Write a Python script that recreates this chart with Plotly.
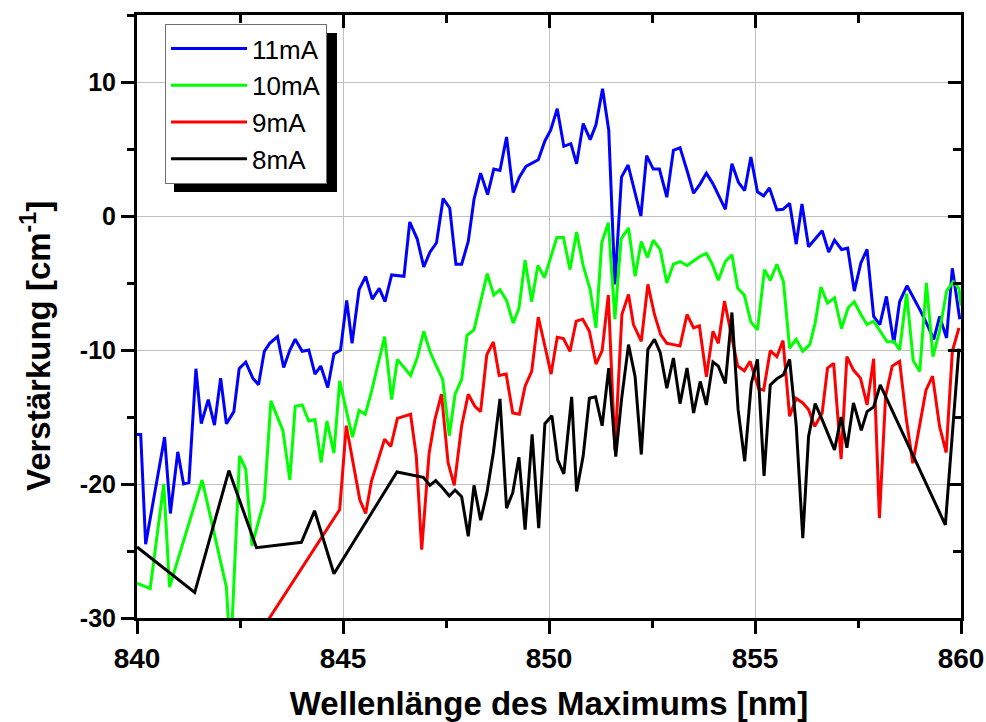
import plotly.graph_objects as go

# Gain spectra vs. wavelength of the maximum, for four pump currents
wl_11mA = [840.00, 840.09, 840.21, 840.67, 840.81, 840.99, 841.13, 841.26, 841.43, 841.56,
           841.73, 841.88, 842.03, 842.17, 842.35, 842.48, 842.64, 842.81, 842.95, 843.09,
           843.22, 843.41, 843.56, 843.71, 843.84, 844.01, 844.17, 844.32, 844.46, 844.63,
           844.78, 844.94, 845.09, 845.22, 845.39, 845.55, 845.71, 845.88, 846.02, 846.18,
           846.48, 846.62, 846.80, 846.96, 847.11, 847.27, 847.43, 847.59, 847.74, 847.88,
           848.04, 848.18, 848.34, 848.51, 848.66, 848.81, 848.97, 849.13, 849.28, 849.44,
           849.74, 849.90, 850.04, 850.20, 850.36, 850.53, 850.67, 850.83, 851.00, 851.14,
           851.30, 851.45, 851.60, 851.76, 851.92, 852.07, 852.23, 852.37, 852.53, 852.68,
           852.86, 853.02, 853.18, 853.35, 853.51, 853.67, 853.82, 853.98, 854.11, 854.28,
           854.44, 854.60, 854.75, 854.90, 855.06, 855.21, 855.35, 855.53, 855.68, 855.84,
           856.00, 856.14, 856.30, 856.46, 856.63, 856.79, 856.93, 857.10, 857.25, 857.41,
           857.57, 857.72, 857.88, 858.03, 858.19, 858.37, 858.51, 858.69, 858.85, 859.02,
           859.18, 859.34, 859.48, 859.65, 859.79, 859.97]
g_11mA = [-16.3, -16.3, -24.5, -16.5, -22.2, -17.6, -20.0, -19.9, -11.4, -15.5,
          -13.7, -15.6, -12.1, -15.5, -14.6, -11.4, -10.9, -12.1, -12.6, -10.1,
          -9.5, -9.0, -11.3, -10.0, -9.2, -10.1, -10.0, -11.8, -11.2, -12.8,
          -10.3, -10.0, -6.3, -9.5, -5.5, -4.5, -6.2, -5.4, -6.4, -4.4,
          -4.5, -0.45, -1.7, -3.8, -2.7, -2.0, 1.3, 0.6, -3.6, -3.6,
          -1.9, 1.25, 3.2, 1.6, 3.5, 3.4, 5.9, 1.75, 2.9, 3.7,
          4.2, 5.6, 6.4, 8.0, 5.2, 5.4, 3.9, 6.9, 5.7, 6.8,
          9.5, 6.4, -5.1, 2.9, 3.8, 2.0, 0.0, 4.5, 3.5, 3.5,
          1.4, 4.9, 5.1, 3.4, 1.7, 2.4, 3.2, 2.4, 1.6, 0.5,
          3.9, 2.5, 1.9, 4.4, 1.8, 1.5, 2.1, 0.45, 0.5, 0.95,
          -2.1, 0.9, -2.3, -1.7, -1.1, -2.7, -1.8, -2.5, -2.4, -5.6,
          -3.5, -2.5, -7.5, -8.1, -6.0, -9.5, -6.4, -5.2, -6.1, -7.1,
          -8.1, -9.2, -7.5, -9.1, -3.9, -7.7]

wl_10mA = [840.00, 840.32, 840.65, 840.79, 841.58, 842.17, 842.27, 842.49, 842.64, 842.79,
           843.09, 843.25, 843.54, 843.71, 843.84, 844.01, 844.17, 844.32, 844.47, 844.61,
           844.78, 844.92, 845.08, 845.23, 845.39, 845.54, 845.70, 846.01, 846.18, 846.32,
           846.64, 846.80, 846.96, 847.11, 847.25, 847.42, 847.58, 847.72, 847.88, 848.01,
           848.18, 848.50, 848.66, 848.81, 848.97, 849.13, 849.27, 849.42, 849.58, 849.73,
           849.89, 850.19, 850.35, 850.51, 850.67, 850.83, 851.00, 851.14, 851.28, 851.44,
           851.60, 851.75, 851.93, 852.09, 852.24, 852.39, 852.53, 852.70, 852.86, 853.02,
           853.18, 853.35, 853.49, 853.67, 853.82, 853.95, 854.11, 854.28, 854.44, 854.58,
           854.74, 854.90, 855.06, 855.23, 855.37, 855.53, 855.69, 855.84, 856.00, 856.16,
           856.33, 856.46, 856.60, 856.76, 856.93, 857.10, 857.26, 857.41, 857.57, 857.72,
           857.88, 858.04, 858.21, 858.37, 858.51, 858.68, 858.84, 859.00, 859.16, 859.32,
           859.48, 859.65, 859.81, 859.95, 860.00]
g_10mA = [-27.4, -27.8, -20.0, -27.7, -19.7, -27.7, -33.0, -17.9, -18.9, -24.6,
          -21.2, -13.8, -16.0, -19.7, -14.2, -14.1, -15.3, -15.2, -18.4, -15.3,
          -17.7, -12.3, -14.5, -16.5, -14.5, -14.8, -13.0, -9.0, -13.7, -10.7,
          -11.9, -10.6, -8.6, -10.1, -11.1, -12.2, -16.4, -13.3, -12.2, -8.9,
          -8.5, -4.3, -5.9, -5.5, -6.3, -8.0, -6.9, -3.3, -6.4, -3.7,
          -4.6, -1.6, -1.6, -4.0, -1.2, -3.7, -5.5, -8.35, -2.0, -0.5,
          -7.7, -1.7, -0.9, -4.5, -1.9, -3.1, -1.8, -2.5, -5.0, -3.6,
          -3.4, -3.7, -3.4, -3.0, -2.8, -3.5, -4.8, -3.4, -2.9, -5.4,
          -5.9, -7.9, -8.5, -4.0, -4.8, -3.6, -4.9, -9.85, -9.2, -10.1,
          -9.6, -8.0, -5.3, -6.5, -6.1, -8.4, -6.85, -6.4, -7.35, -8.1,
          -7.85, -8.6, -9.4, -9.35, -10.0, -5.8, -10.8, -11.6, -5.0, -10.5,
          -8.6, -5.6, -4.9, -5.4, -6.7]

wl_9mA = [842.90, 844.92, 845.08, 845.41, 845.55, 845.69, 846.01, 846.16, 846.32, 846.64,
          846.78, 846.91, 847.09, 847.23, 847.39, 847.55, 847.70, 847.88, 848.04, 848.20,
          848.34, 848.49, 848.65, 848.79, 848.96, 849.12, 849.28, 849.42, 849.58, 849.74,
          849.90, 850.05, 850.20, 850.35, 850.51, 850.66, 850.82, 850.98, 851.14, 851.29,
          851.44, 851.60, 851.77, 851.93, 852.05, 852.24, 852.40, 852.56, 852.71, 852.86,
          853.02, 853.18, 853.35, 853.51, 853.65, 853.82, 853.98, 854.11, 854.26, 854.42,
          854.58, 854.74, 854.88, 855.09, 855.21, 855.37, 855.53, 855.68, 855.84, 856.00,
          856.16, 856.30, 856.45, 856.63, 856.76, 856.91, 857.09, 857.23, 857.39, 857.56,
          857.72, 857.88, 858.02, 858.17, 858.33, 858.51, 858.67, 858.83, 858.99, 859.15,
          859.31, 859.48, 859.64, 859.79, 859.95]
g_9mA = [-31.5, -21.9, -15.65, -21.2, -22.2, -19.8, -16.65, -17.2, -15.1, -14.8,
         -17.95, -24.9, -17.7, -15.2, -13.3, -18.4, -20.1, -15.65, -13.3, -14.2,
         -14.6, -10.35, -9.4, -11.9, -11.8, -14.7, -14.8, -12.7, -11.6, -7.55,
         -9.7, -11.8, -9.05, -9.15, -10.1, -7.85, -7.7, -8.6, -11.05, -10.05,
         -5.9, -17.45, -7.35, -5.85, -8.1, -9.35, -5.1, -7.35, -8.85, -9.5,
         -9.6, -9.7, -7.35, -8.35, -8.2, -12.0, -8.6, -9.5, -6.35, -8.9,
         -11.2, -11.55, -10.85, -12.9, -13.0, -10.05, -10.5, -9.3, -14.95, -13.6,
         -13.95, -14.45, -15.7, -14.7, -11.35, -11.0, -18.15, -10.5, -11.5, -12.1,
         -14.1, -10.65, -22.55, -13.45, -11.2, -10.85, -15.1, -18.45, -15.6, -13.0,
         -11.95, -15.7, -17.65, -10.1, -8.35]

wl_8mA = [840.00, 841.40, 842.23, 842.90, 843.99, 844.31, 844.78, 846.31, 846.95, 847.11,
          847.25, 847.42, 847.58, 847.72, 847.88, 848.04, 848.18, 848.34, 848.49, 848.65,
          848.81, 848.97, 849.12, 849.27, 849.42, 849.59, 849.75, 849.90, 850.07, 850.21,
          850.36, 850.55, 850.67, 850.83, 850.98, 851.13, 851.29, 851.45, 851.62, 851.76,
          851.93, 852.09, 852.24, 852.40, 852.56, 852.70, 852.86, 853.02, 853.18, 853.35,
          853.51, 853.67, 853.82, 853.98, 854.11, 854.28, 854.44, 854.59, 854.75, 854.91,
          855.06, 855.22, 855.37, 855.53, 855.69, 855.84, 856.00, 856.16, 856.30, 856.46,
          856.63, 856.79, 856.93, 857.09, 857.23, 857.39, 857.58, 857.72, 857.88, 858.04,
          859.62, 859.95]
g_8mA = [-24.7, -28.1, -19.0, -24.75, -24.35, -22.0, -26.7, -19.1, -19.5, -20.1,
         -19.75, -20.3, -20.9, -20.45, -20.95, -23.9, -20.1, -22.7, -20.7, -17.65,
         -13.65, -21.8, -20.65, -18.0, -23.4, -16.3, -23.3, -15.5, -14.9, -18.2,
         -19.25, -13.5, -20.55, -17.9, -13.6, -13.5, -15.65, -11.35, -17.95, -13.7,
         -9.6, -12.0, -17.8, -9.95, -9.2, -10.2, -12.85, -10.6, -14.0, -11.35,
         -14.7, -12.35, -14.1, -10.9, -11.2, -12.5, -7.2, -14.45, -18.3, -12.5,
         -10.7, -19.4, -12.6, -12.15, -11.85, -10.7, -15.6, -24.05, -16.45, -14.0,
         -15.2, -16.45, -17.45, -15.0, -17.3, -13.95, -16.0, -14.6, -14.25, -12.6,
         -23.05, -9.9]

# axis ticks and their labels
x_ticks = [840, 845, 850, 855, 860]
x_ticklabels = ["840", "845", "850", "855", "860"]
y_ticks = [-30, -20, -10, 0, 10]
y_ticklabels = ["-30", "-20", "-10", "0", "10"]

series = [
    ("11mA", wl_11mA, g_11mA, "#0000ff"),
    ("10mA", wl_10mA, g_10mA, "#00ff00"),
    ("9mA", wl_9mA, g_9mA, "#ff0000"),
    ("8mA", wl_8mA, g_8mA, "#000000"),
]

x_range = [840, 860]
y_range = [-30, 15]

FONT = "Liberation Sans, Arial, sans-serif"

fig = go.Figure()
for i, (name, x, y, color) in enumerate(series):
    # last curve goes on the top/right axis pair so that frame is drawn too
    on_secondary = i == len(series) - 1
    fig.add_trace(go.Scatter(x=x, y=y, mode="lines", name=name,
                             line=dict(color=color, width=3),
                             xaxis="x2" if on_secondary else "x",
                             yaxis="y2" if on_secondary else "y"))

axis_common = dict(showline=True, linecolor="black", linewidth=3,
                   tickcolor="black", tickwidth=3, zeroline=False,
                   automargin=False)

fig.update_layout(
    width=986, height=722,
    margin=dict(l=137, r=25, t=15, b=104),
    paper_bgcolor="white", plot_bgcolor="white",
    font=dict(family=FONT, color="black"),
    showlegend=True,
    legend=dict(x=0.034, y=0.985, xanchor="left", yanchor="top",
                bgcolor="white", bordercolor="#707070", borderwidth=1,
                font=dict(family=FONT, size=26, color="black"),
                itemwidth=76, tracegroupgap=0),
    xaxis=dict(range=x_range, tickvals=x_ticks, ticktext=x_ticklabels,
               ticks="outside", ticklen=13,
               showgrid=True, gridcolor="#c0c0c0", gridwidth=1,
               minor=dict(dtick=2.5, tick0=840, ticks="outside", ticklen=7,
                          tickwidth=3, tickcolor="black", showgrid=False),
               tickfont=dict(family=FONT, size=28, weight="bold"),
               ticklabelstandoff=0,
               title=dict(text="Wellenlänge des Maximums [nm]", standoff=20,
                          font=dict(family=FONT, size=33, weight="bold")),
               **axis_common),
    yaxis=dict(range=y_range, tickvals=y_ticks, ticktext=y_ticklabels,
               ticks="outside", ticklen=13,
               showgrid=True, gridcolor="#c0c0c0", gridwidth=1,
               minor=dict(dtick=5, tick0=0, ticks="outside", ticklen=7,
                          tickwidth=3, tickcolor="black", showgrid=False),
               tickfont=dict(family=FONT, size=25, weight="bold"),
               ticklabelstandoff=0,
               **axis_common),
    xaxis2=dict(range=x_range, overlaying="x", side="top", anchor="y2",
                tickvals=x_ticks, ticks="inside", ticklen=13,
                showticklabels=False, showgrid=False,
                minor=dict(dtick=2.5, tick0=840, ticks="inside", ticklen=8,
                           tickwidth=3, tickcolor="black", showgrid=False),
                **axis_common),
    yaxis2=dict(range=y_range, overlaying="y", side="right", anchor="x2",
                tickvals=y_ticks, ticks="inside", ticklen=13,
                showticklabels=False, showgrid=False,
                minor=dict(dtick=5, tick0=0, ticks="inside", ticklen=8,
                           tickwidth=3, tickcolor="black", showgrid=False),
                **axis_common),
)

# y-axis title, set a little below the middle of the axis
fig.add_annotation(text="Verstärkung [cm<sup>-1</sup>]", textangle=-90,
                   xref="paper", yref="paper", x=-0.1226, y=0.451,
                   xanchor="center", yanchor="middle", showarrow=False,
                   font=dict(family=FONT, size=33, weight="bold", color="black"))

# drop shadow behind the legend box
fig.add_shape(type="rect", xref="paper", yref="paper",
              x0=0.0449, x1=0.2427, y0=0.7065, y1=0.970,
              fillcolor="black", line=dict(width=0), layer="above")

fig.write_html("out.html")
